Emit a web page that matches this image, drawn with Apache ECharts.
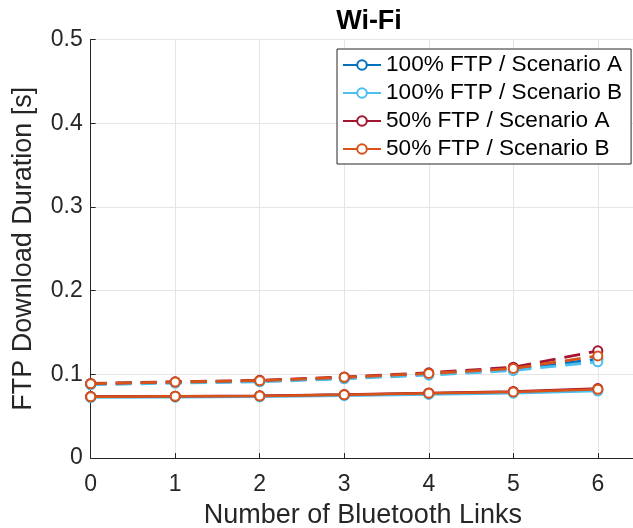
<!DOCTYPE html>
<html>
<head>
<meta charset="utf-8">
<script src="https://cdn.jsdelivr.net/npm/echarts@6/dist/echarts.min.js"></script>
<style>html,body{margin:0;padding:0;background:#fff}#c{width:633px;height:528px}</style>
</head>
<body>
<div id="c"></div>
<script>
var links = [0, 1, 2, 3, 4, 5, 6];
var seriesNames = ['100% FTP / Scenario A', '100% FTP / Scenario B', '50% FTP / Scenario A', '50% FTP / Scenario B'];
var colors = ['#0072BD', '#4DBEEE', '#A2142F', '#D95319'];
// solid lines
var solid100A = [0.0733, 0.0737, 0.0741, 0.0755, 0.0772, 0.0788, 0.0810];
var solid100B = [0.0722, 0.0726, 0.0731, 0.0744, 0.0760, 0.0775, 0.0800];
var solid50A  = [0.0734, 0.0738, 0.0743, 0.0758, 0.0777, 0.0795, 0.0830];
var solid50B  = [0.0733, 0.0737, 0.0741, 0.0756, 0.0774, 0.0790, 0.0820];
// dashed lines
var dash100A = [0.0885, 0.0905, 0.0920, 0.0958, 0.1002, 0.1060, 0.1180];
var dash100B = [0.0875, 0.0895, 0.0910, 0.0946, 0.0990, 0.1045, 0.1150];
var dash50A  = [0.0890, 0.0910, 0.0928, 0.0968, 0.1018, 0.1085, 0.1280];
var dash50B  = [0.0888, 0.0908, 0.0924, 0.0964, 0.1010, 0.1070, 0.1220];
var yTicks = [0, 0.1, 0.2, 0.3, 0.4, 0.5];

var solids = [solid100A, solid100B, solid50A, solid50B];
var dashes = [dash100A, dash100B, dash50A, dash50B];
var font = 'Liberation Sans, Arial, Helvetica, sans-serif';

function pairs(arr) { return links.map(function (x, i) { return [x, arr[i]]; }); }

var series = [];
for (var i = 0; i < 4; i++) {
  series.push({
    name: seriesNames[i] + ' ',
    type: 'line',
    data: pairs(dashes[i]),
    symbol: 'emptyCircle',
    symbolSize: 9,
    color: colors[i],
    lineStyle: { width: 2.8, type: [16, 9], color: colors[i] },
    itemStyle: { color: colors[i], borderColor: colors[i], borderWidth: 2.2 },
    emphasis: { disabled: true },
    animation: false
  });
}
for (var j = 0; j < 4; j++) {
  series.push({
    name: seriesNames[j],
    type: 'line',
    data: pairs(solids[j]),
    symbol: 'emptyCircle',
    symbolSize: 9,
    color: colors[j],
    lineStyle: { width: 2.5, color: colors[j] },
    itemStyle: { color: colors[j], borderColor: colors[j], borderWidth: 2.2 },
    emphasis: { disabled: true },
    animation: false
  });
}

var chart = echarts.init(document.getElementById('c'));
chart.setOption({
  backgroundColor: '#fff',
  animation: false,
  title: {
    text: 'Wi-Fi',
    left: 364,
    top: 3,
    textAlign: 'center',
    textStyle: { fontFamily: font, fontSize: 27, fontWeight: 'bold', color: '#000' }
  },
  legend: {
    data: seriesNames,
    orient: 'vertical',
    left: 337,
    top: 49,
    backgroundColor: '#fff',
    borderColor: '#262626',
    borderWidth: 1,
    padding: [4, 9, 3, 5],
    itemWidth: 38,
    itemHeight: 12,
    itemGap: 4,
    selectedMode: false,
    textStyle: { fontFamily: font, fontSize: 22.6, color: '#000', lineHeight: 24 }
  },
  grid: { left: 90.7, top: 39.5, right: -2, bottom: 70, containLabel: false, outerBoundsMode: 'none' },
  xAxis: {
    type: 'value',
    min: 0,
    max: 6.44,
    interval: 1,
    name: 'Number of Bluetooth Links',
    nameLocation: 'middle',
    nameGap: 44,
    nameTextStyle: { fontFamily: font, fontSize: 27, color: '#262626' },
    axisLine: { show: true, onZero: false, lineStyle: { color: '#262626', width: 1 } },
    axisTick: { show: true, inside: true, length: 5, lineStyle: { color: '#262626' } },
    axisLabel: {
      fontFamily: font, fontSize: 23, color: '#262626', margin: 15,
      showMaxLabel: false,
      formatter: function (v) { return Number.isInteger(v) ? String(v) : ''; }
    },
    splitLine: { show: true, lineStyle: { color: '#e5e5e5', width: 1 } }
  },
  yAxis: {
    type: 'value',
    min: 0,
    max: 0.5,
    interval: 0.1,
    name: 'FTP Download Duration [s]',
    nameLocation: 'middle',
    nameGap: 54,
    nameTextStyle: { fontFamily: font, fontSize: 27, color: '#262626' },
    axisLine: { show: true, lineStyle: { color: '#262626', width: 1 } },
    axisTick: { show: true, inside: true, length: 5, lineStyle: { color: '#262626' } },
    axisLabel: {
      fontFamily: font, fontSize: 23, color: '#262626', margin: 8,
      formatter: function (v) {
        var best = yTicks.reduce(function (a, b) { return Math.abs(b - v) < Math.abs(a - v) ? b : a; });
        return String(best);
      }
    },
    splitLine: { show: true, lineStyle: { color: '#e5e5e5', width: 1 } }
  },
  series: series
});
</script>
</body>
</html>
